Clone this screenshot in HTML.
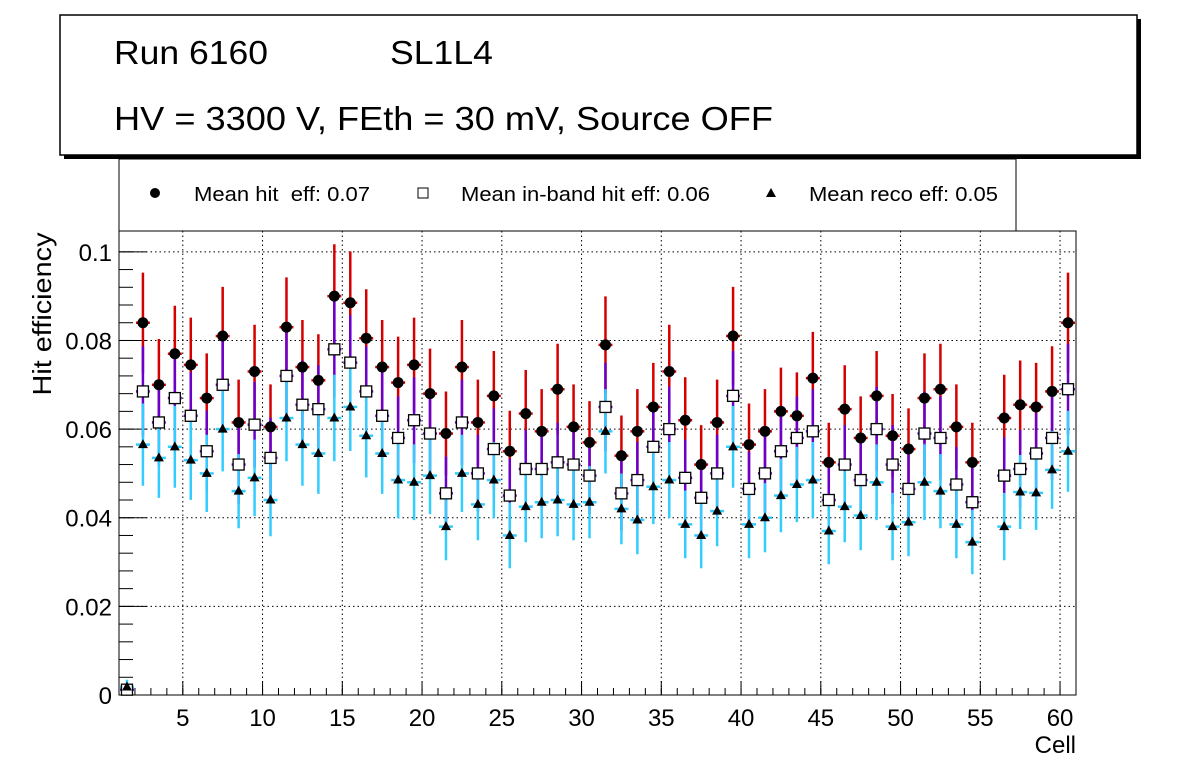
<!DOCTYPE html>
<html><head><meta charset="utf-8"><style>
body{margin:0;background:#fff;font-family:"Liberation Sans",sans-serif;}
</style></head><body>
<svg id="c" width="1196" height="772" xmlns="http://www.w3.org/2000/svg" font-family="Liberation Sans, sans-serif">
<rect x="64" y="19" width="1077" height="140" fill="#000"/>
<rect x="60" y="15" width="1077" height="140" fill="#fff" stroke="#000" stroke-width="1.5"/>
<text x="114" y="64" font-size="33" textLength="154" lengthAdjust="spacingAndGlyphs">Run 6160</text>
<text x="390" y="64" font-size="33" textLength="103" lengthAdjust="spacingAndGlyphs">SL1L4</text>
<text x="114" y="130" font-size="33" textLength="659" lengthAdjust="spacingAndGlyphs">HV = 3300 V, FEth = 30 mV, Source OFF</text>
<rect x="119" y="159" width="897" height="72" fill="#fff" stroke="#000" stroke-width="1"/>
<g><circle cx="155" cy="193" r="5" fill="#000"/><text x="194" y="201" font-size="20" textLength="176" lengthAdjust="spacingAndGlyphs">Mean hit&#160; eff: 0.07</text></g>
<g><rect x="418" y="188" width="10" height="10" fill="#fff" stroke="#000"/><text x="461" y="201" font-size="20" textLength="249" lengthAdjust="spacingAndGlyphs">Mean in-band hit eff: 0.06</text></g>
<g><polygon points="771,188 776,197 766,197" fill="#000"/><text x="809" y="201" font-size="20" textLength="189" lengthAdjust="spacingAndGlyphs">Mean reco eff: 0.05</text></g>
<g id="plot"></g>
<text transform="translate(51,314) rotate(-90)" text-anchor="middle" font-size="26" textLength="163" lengthAdjust="spacingAndGlyphs">Hit efficiency</text>
<text x="1076" y="753" text-anchor="end" font-size="24">Cell</text>
</svg>
<script>
const cells = [1,2,3,4,5,6,7,8,9,10,11,12,13,14,15,16,17,18,19,20,21,22,23,24,25,26,27,28,29,30,31,32,33,34,35,36,37,38,39,40,41,42,43,44,45,46,47,48,49,50,51,52,53,54,55,56,57,58,59,60];
const hitEff = [null,0.084,0.070,0.077,0.0745,0.067,0.081,0.0615,0.073,0.0605,0.083,0.074,0.071,0.090,0.0885,0.0805,0.074,0.0705,0.0745,0.068,0.059,0.074,0.0615,0.0675,0.055,0.0635,0.0595,0.069,0.0605,0.057,0.079,0.054,0.0595,0.065,0.073,0.062,0.052,0.0615,0.081,0.0565,0.0595,0.064,0.063,0.0715,0.0525,0.0645,0.058,0.0675,0.0585,0.0555,0.067,0.069,0.0605,0.0525,null,0.0625,0.0655,0.065,0.0685,0.084];
const bandEff = [0.0012,0.0685,0.0615,0.067,0.063,0.055,0.070,0.052,0.061,0.0535,0.072,0.0655,0.0645,0.078,0.075,0.0685,0.063,0.058,0.062,0.059,0.0455,0.0615,0.050,0.0555,0.045,0.051,0.051,0.0525,0.052,0.0495,0.065,0.0455,0.0485,0.056,0.060,0.049,0.0445,0.050,0.0675,0.0465,0.050,0.055,0.058,0.0595,0.044,0.052,0.0485,0.060,0.052,0.0465,0.059,0.058,0.0475,0.0435,null,0.0495,0.051,0.0545,0.058,0.069];
const recoEff = [0.0018,0.0565,0.0535,0.056,0.053,0.050,0.060,0.046,0.049,0.044,0.0625,0.0565,0.0545,0.0625,0.065,0.0585,0.0545,0.0485,0.048,0.0495,0.038,0.050,0.043,0.0485,0.036,0.0425,0.0435,0.044,0.043,0.0435,0.0595,0.042,0.0395,0.047,0.0485,0.0385,0.036,0.0415,0.056,0.0385,0.040,0.045,0.0475,0.0485,0.037,0.0425,0.0405,0.048,0.038,0.039,0.048,0.046,0.0385,0.0345,null,0.038,0.0458,0.0456,0.0508,0.055];
const yTicks = [0,0.02,0.04,0.06,0.08,0.1];
const yTickLabels = ["0","0.02","0.04","0.06","0.08","0.1"];
const xTicks = [5,10,15,20,25,30,35,40,45,50,55,60];
const errScale = 0.039;

const L=119,R=1076,T=231,B=695,xmin=1,xmax=61,ymin=0,ymax=0.1047;
const X=v=>L+(v-xmin)/(xmax-xmin)*(R-L);
const Y=v=>B-(v-ymin)/(ymax-ymin)*(B-T);
const NS="http://www.w3.org/2000/svg";
const g=document.getElementById('plot');
function mk(tag,attrs,parent){const e=document.createElementNS(NS,tag);for(const k in attrs)e.setAttribute(k,attrs[k]);(parent||g).appendChild(e);return e;}

const frame=mk('rect',{x:L,y:T,width:R-L,height:B-T,fill:'#fff',stroke:'#000','stroke-width':1});


yTicks.forEach((t,i)=>{
  const y=Y(t);
  if(t>0){const gl=mk('line',{x1:L,x2:R,y1:y,y2:y,stroke:'#000','stroke-dasharray':'1.5,3','stroke-width':1});
  
  }
  mk('line',{x1:L,x2:L+28,y1:y,y2:y,stroke:'#000'});
  const tx=mk('text',{x:L-7,y:y+9,'text-anchor':'end','font-size':24});
  tx.textContent=yTickLabels[i];
  
  
});
for(let v=0.004;v<0.104;v+=0.004){mk('line',{x1:L,x2:L+14,y1:Y(v),y2:Y(v),stroke:'#000'});}
xTicks.forEach(t=>{
  const x=X(t);
  const gl=mk('line',{x1:x,x2:x,y1:T,y2:B,stroke:'#000','stroke-dasharray':'1.5,3','stroke-width':1});
  
  
  mk('line',{x1:x,x2:x,y1:B,y2:B-14,stroke:'#000'});
  const tx=mk('text',{x:x,y:B+31,'text-anchor':'middle','font-size':24});
  tx.textContent=String(t);
  
  
});
for(let v=2;v<61;v++){mk('line',{x1:X(v),x2:X(v),y1:B,y2:B-7,stroke:'#000'});}

const series=[[hitEff,'#d40000','hit'],[bandEff,'#6a00cc','band'],[recoEff,'#33ccff','reco']];
series.forEach(([arr,col,nm])=>{
  cells.forEach((c,i)=>{
    const v=arr[i]; if(v==null) return;
    const e=errScale*Math.sqrt(v), x=X(c+0.5);
    const b=mk('line',{x1:x,x2:x,y1:Y(Math.max(0,v-e)),y2:Y(v+e),stroke:col,'stroke-width':2.5});
    
    
    mk('line',{x1:X(c)+1,x2:X(c+1)-1,y1:Y(v),y2:Y(v),stroke:col,'stroke-width':2.5});
  });
});
cells.forEach((c,i)=>{
  const x=X(c+0.5);
  let v=hitEff[i];
  if(v!=null){const m=mk('circle',{cx:x,cy:Y(v),r:5.5,fill:'#000'});
    
    }
  v=bandEff[i];
  if(v!=null){const m=mk('rect',{x:x-5.5,y:Y(v)-5.5,width:11,height:11,fill:'#fff',stroke:'#000','stroke-width':1.3});
    
    }
  v=recoEff[i];
  if(v!=null){const y=Y(v);const m=mk('polygon',{points:`${x},${y-5.5} ${x+5},${y+3.5} ${x-5},${y+3.5}`,fill:'#000'});
    
    }
});
</script>
</body></html>
